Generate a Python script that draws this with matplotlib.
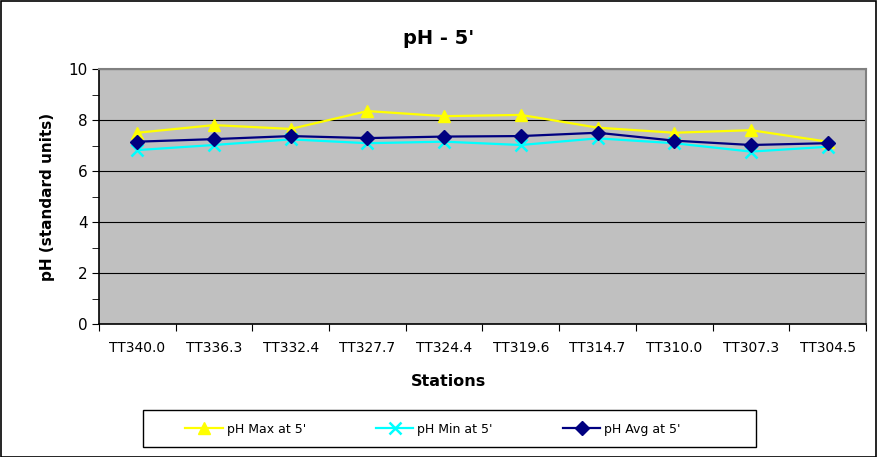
import numpy as np
import matplotlib.pyplot as plt
from matplotlib.patches import Rectangle

stations = ['TT340.0', 'TT336.3', 'TT332.4', 'TT327.7', 'TT324.4',
            'TT319.6', 'TT314.7', 'TT310.0', 'TT307.3', 'TT304.5']
ph_max = [7.50, 7.80, 7.65, 8.35, 8.15, 8.20, 7.70, 7.50, 7.60, 7.15]
ph_min = [6.82, 7.02, 7.24, 7.09, 7.15, 7.02, 7.28, 7.09, 6.76, 6.95]
ph_avg = [7.15, 7.25, 7.37, 7.29, 7.35, 7.37, 7.50, 7.19, 7.02, 7.09]

plt.rcParams['font.family'] = ['DejaVu Sans']

fig = plt.figure(figsize=(8.78, 4.57), dpi=100)
fig.patches.append(Rectangle((0.001, 0.001), 0.997, 0.996, transform=fig.transFigure,
                             fill=False, edgecolor='black', linewidth=1.2))

ax = fig.add_axes([99 / 878, 133 / 457, 767 / 878, 255 / 457])
ax.set_facecolor('#C0C0C0')

x = np.arange(len(stations))
ax.plot(x, ph_max, color='#FFFF00', lw=1.6, marker='^', ms=9, mec='#FFFF00',
        label="pH Max at 5'")
ax.plot(x, ph_min, color='#00FFFF', lw=1.6, marker='x', ms=8, mew=1.8,
        label="pH Min at 5'")
ax.plot(x, ph_avg, color='#000080', lw=1.6, marker='D', ms=7,
        label="pH Avg at 5'")

ax.set_xlim(-0.5, len(stations) - 0.5)
ax.set_ylim(0, 10)
ax.set_yticks(np.arange(0, 11, 2))
ax.set_yticks(np.arange(1, 10, 2), minor=True)
ax.grid(axis='y', which='major', color='black', lw=0.8)
ax.set_axisbelow(True)

ax.set_xticks(np.arange(-0.5, len(stations), 1))
ax.set_xticklabels([])
ax.set_xticks(x, minor=True)
ax.set_xticklabels(stations, minor=True)
ax.tick_params(axis='x', which='major', length=5, direction='out', color='black')
ax.tick_params(axis='x', which='minor', length=0, pad=12, labelsize=10)
ax.tick_params(axis='y', which='both', length=5, direction='out', labelsize=11, pad=3)

for side in ['top', 'right']:
    ax.spines[side].set_color('#808080')
    ax.spines[side].set_linewidth(1.5)
for side in ['left', 'bottom']:
    ax.spines[side].set_color('black')
    ax.spines[side].set_linewidth(1.2)

fig.text(0.5, 1 - 38 / 457, "pH - 5'", ha='center', va='center',
         fontsize=14, fontweight='bold')
ax.set_ylabel('pH (standard units)', fontsize=11, fontweight='bold', labelpad=10)
fig.text(448 / 878, 1 - 382 / 457, 'Stations', ha='center', va='center',
         fontsize=11.5, fontweight='bold')

# legend box drawn separately, entries centred inside it
fig.patches.append(Rectangle((143 / 878, 10 / 457), 613 / 878, 37 / 457,
                             transform=fig.transFigure, fill=False,
                             edgecolor='black', linewidth=1.0))
leg = fig.legend(loc='center', ncol=3,
                 bbox_to_anchor=(433 / 878, 1 - 429 / 457),
                 fontsize=9, frameon=False, handlelength=3.0,
                 handletextpad=0.3, columnspacing=5.6)

fig.savefig('out.png', dpi=100)
